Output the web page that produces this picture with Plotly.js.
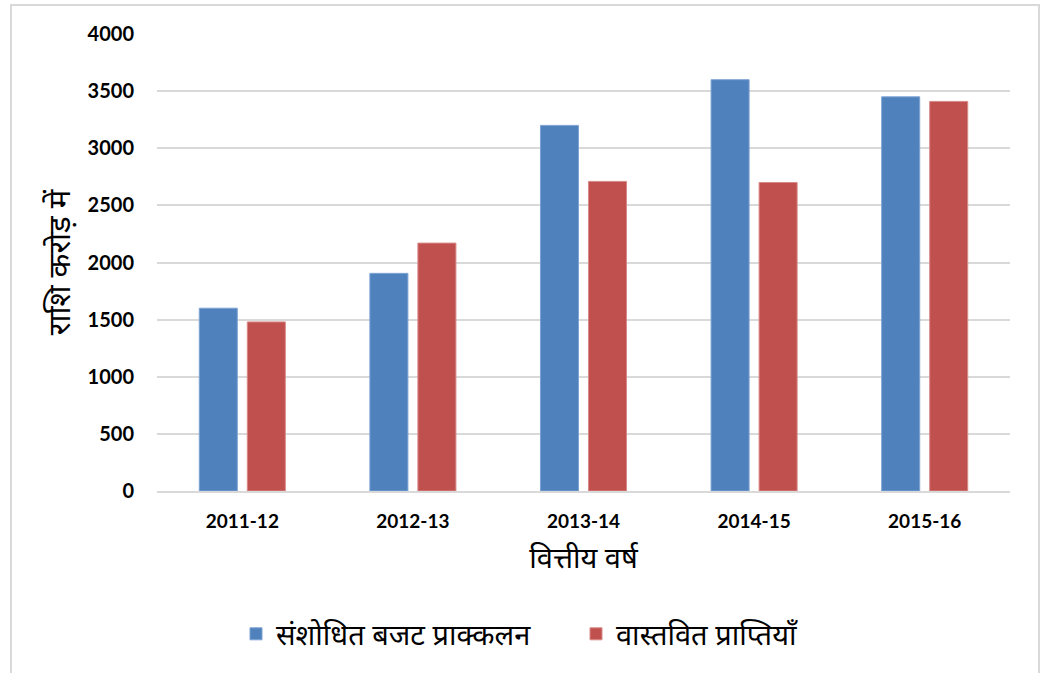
<!DOCTYPE html>
<html>
<head>
<meta charset="utf-8">
<script src="https://cdn.plot.ly/plotly-3.0.1.min.js"></script>
<style>html,body{margin:0;padding:0;background:#fff;}#chart{width:1053px;height:673px;}</style>
</head>
<body>
<div id="chart"></div>
<script>
const categories = ["2011-12", "2012-13", "2013-14", "2014-15", "2015-16"];
const revisedEstimates = [1600, 1905, 3200, 3600, 3450];
const actualReceipts = [1480, 2170, 2710, 2700, 3410];
const seriesNames = ["संशोधित बजट प्राक्कलन", "वास्तवित प्राप्तियाँ"];
const yTicks = [0, 500, 1000, 1500, 2000, 2500, 3000, 3500, 4000];

const hindiFont = "'Noto Sans Devanagari', 'Noto Sans', 'Lohit Devanagari', sans-serif";
const numFont = "Lato, 'Open Sans', sans-serif";

const data = [
  {type: 'bar', x: categories, y: revisedEstimates, name: seriesNames[0],
   marker: {color: '#4f81bd', line: {color: '#7ea3d4', width: 1}}},
  {type: 'bar', x: categories, y: actualReceipts, name: seriesNames[1],
   marker: {color: '#c0504d', line: {color: '#d98a88', width: 1}}}
];

const layout = {
  width: 1053, height: 673,
  margin: {l: 157, r: 43, t: 34, b: 182},
  paper_bgcolor: '#fff', plot_bgcolor: '#fff',
  barmode: 'group', bargap: 0.437, bargroupgap: 0.208,
  showlegend: true,
  legend: {orientation: 'h', xref: 'container', x: 236/1053, xanchor: 'left',
           yref: 'container', y: 0.058, yanchor: 'middle',
           entrywidth: 295, entrywidthmode: 'pixels',
           font: {family: hindiFont, size: 29, color: '#000'}, itemwidth: 20, traceorder: 'normal'},
  xaxis: {
    type: 'category',
    tickfont: {family: numFont, size: 19, color: '#000', weight: 700},
    showgrid: false, showline: true, linecolor: '#d9d9d9', linewidth: 2,
    ticks: '', ticklabelstandoff: 12,
    title: {text: 'वित्तीय वर्ष', font: {family: hindiFont, size: 29, color: '#000'}, standoff: 17}
  },
  yaxis: {
    range: [0, 4000], tickmode: 'array', tickvals: yTicks,
    tickfont: {family: numFont, size: 20, color: '#000', weight: 700},
    showgrid: true, gridcolor: '#d9d9d9', gridwidth: 2, zeroline: false,
    ticks: '', ticklabelstandoff: 22, showline: false,
    title: {text: 'राशि करोड़ में', font: {family: hindiFont, size: 31, color: '#000'}, standoff: 7}
  },
  shapes: [{type: 'rect', xref: 'paper', yref: 'paper',
            x0: (11-157)/853, x1: (1039-157)/853, y0: (491-690)/457, y1: (491-5)/457,
            line: {color: '#d9d9d9', width: 2}, fillcolor: 'rgba(0,0,0,0)', layer: 'below'}]
};

Plotly.newPlot('chart', data, layout, {displayModeBar: false, staticPlot: true});
</script>
</body>
</html>
